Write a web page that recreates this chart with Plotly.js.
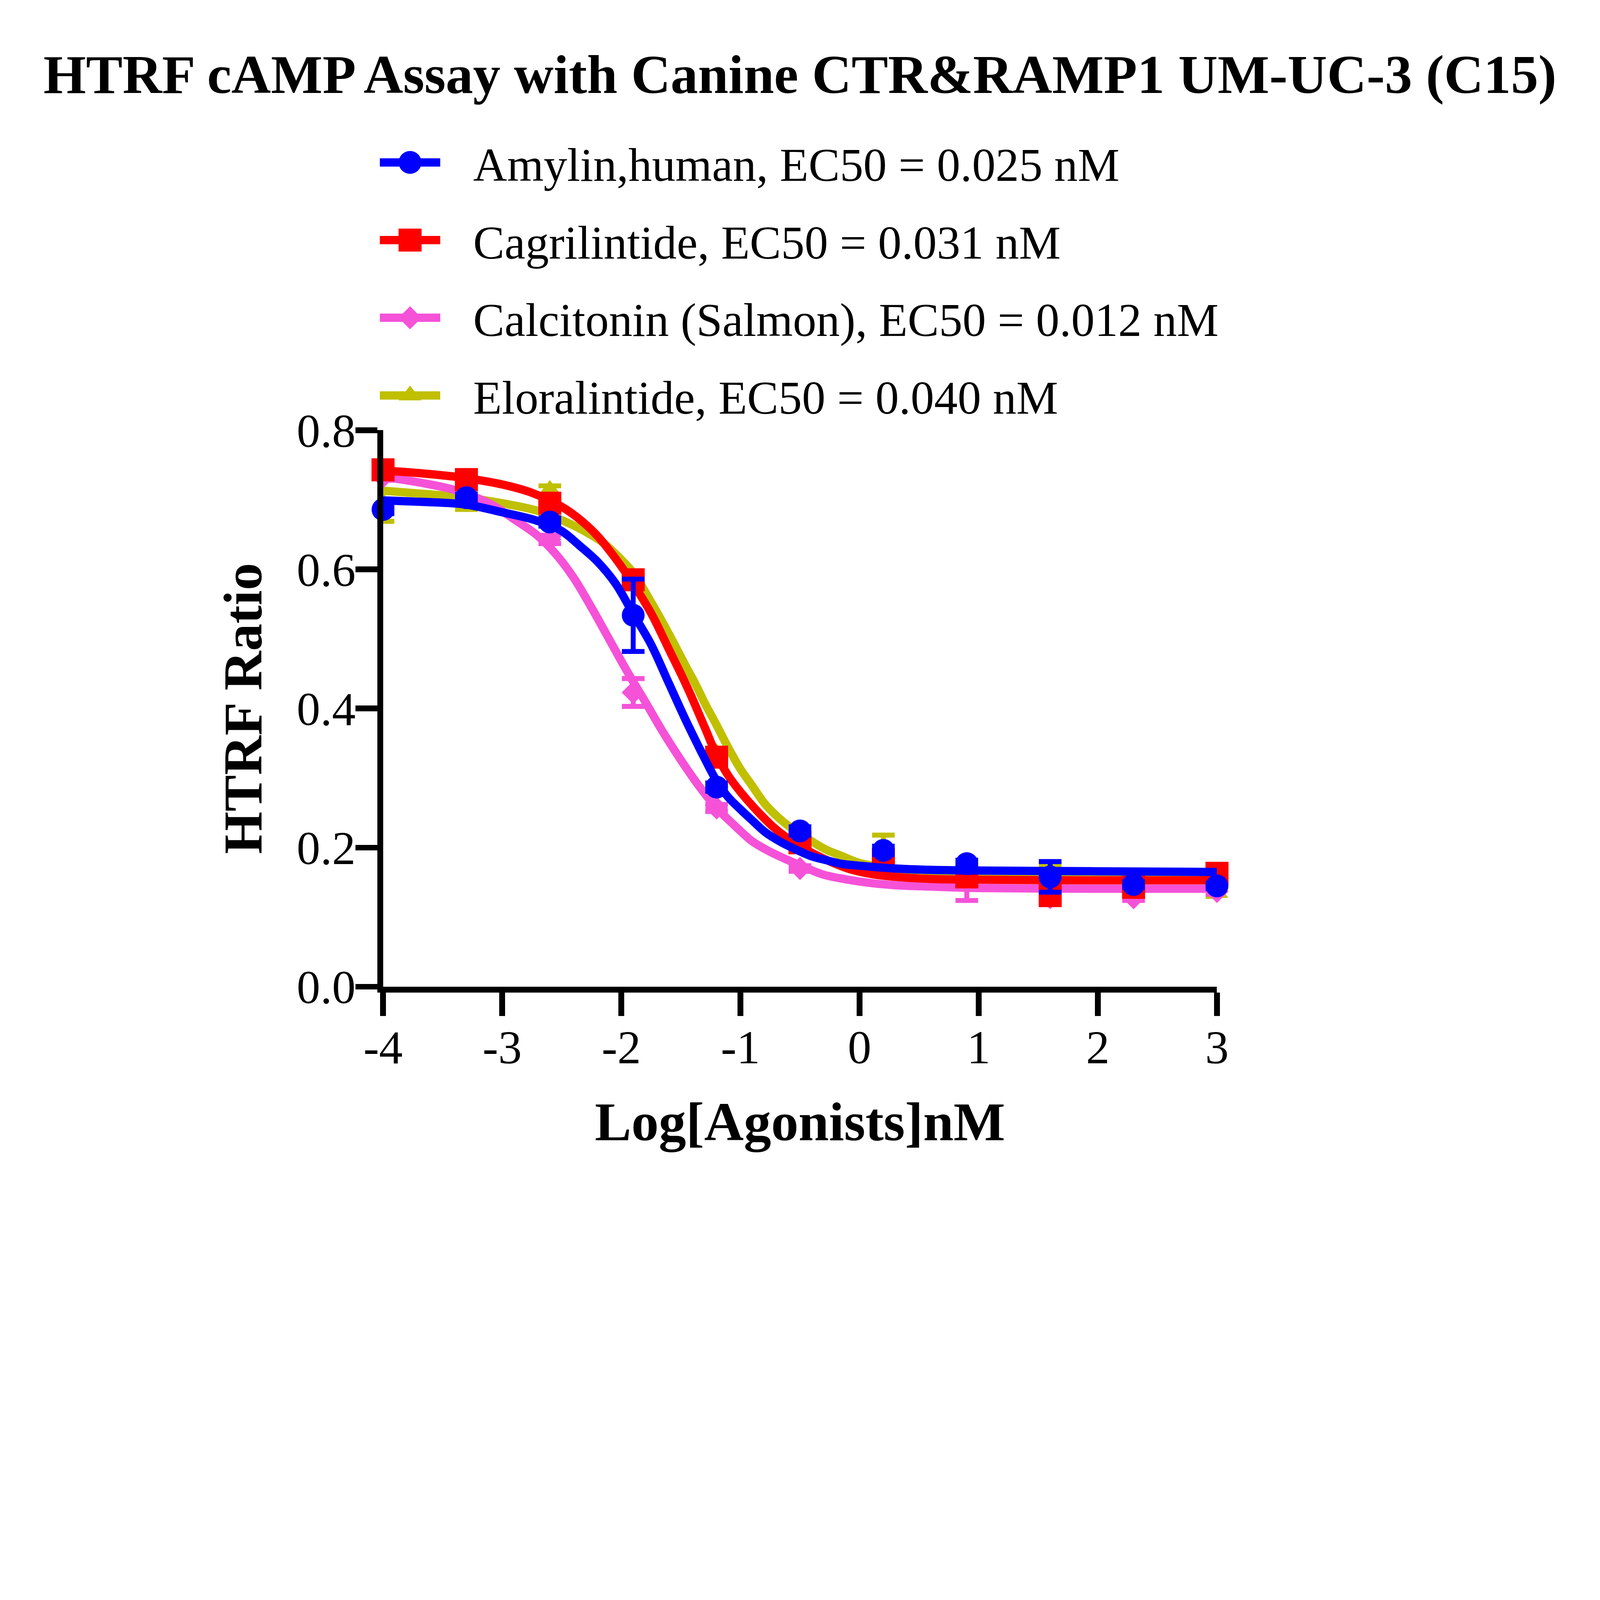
<!DOCTYPE html>
<html>
<head>
<meta charset="utf-8">
<script src="https://cdn.plot.ly/plotly-3.0.1.min.js"></script>
<style>
  html, body { margin: 0; padding: 0; background: #fff; overflow: hidden; }
  #chart { width: 848px; height: 631.25px; }
</style>
</head>
<body>
<div id="chart"></div>
<script>
// log[agonist] nM for every measured dose
const doses = [-4, -3.3, -2.6, -1.9, -1.2, -0.5, 0.2, 0.9, 1.6, 2.3, 3.0];

// mean HTRF ratio and SEM per agonist
const amylin      = [0.686, 0.703, 0.668, 0.534, 0.287, 0.224, 0.196, 0.177, 0.158, 0.147, 0.145];
const amylinSem   = [0.006, 0.005, 0.006, 0.052, 0.006, 0.006, 0.006, 0.005, 0.022, 0.004, 0.004];
const cagri       = [0.743, 0.729, 0.695, 0.585, 0.330, 0.207, 0.183, 0.158, 0.131, 0.143, 0.163];
const cagriSem    = [0.006, 0.005, 0.006, 0.008, 0.006, 0.006, 0.006, 0.006, 0.006, 0.005, 0.006];
const calcitonin  = [0.733, 0.720, 0.643, 0.423, 0.257, 0.170, 0.180, 0.149, 0.128, 0.128, 0.137];
const calcSem     = [0.005, 0.005, 0.006, 0.020, 0.005, 0.004, 0.005, 0.025, 0.005, 0.004, 0.004];
const elora       = [0.691, 0.692, 0.714, 0.586, 0.336, 0.215, 0.190, 0.165, 0.155, 0.145, 0.135];
const eloraSem    = [0.022, 0.006, 0.006, 0.006, 0.006, 0.006, 0.028, 0.006, 0.020, 0.005, 0.005];

// fitted curves
const amylinFitX = [-4.0, -3.68, -3.3, -3.0, -2.71, -2.5, -2.35, -2.2, -2.05, -1.9, -1.75, -1.6, -1.45, -1.3, -1.2, -1.1, -1.0, -0.9, -0.79, -0.66, -0.53, -0.41, -0.28, -0.16, 0.0, 0.3, 0.6, 1.0, 2.0, 3.0];
const amylinFitY = [0.699, 0.697, 0.693, 0.682, 0.670, 0.655, 0.634, 0.611, 0.580, 0.536, 0.492, 0.436, 0.380, 0.328, 0.296, 0.272, 0.255, 0.239, 0.222, 0.208, 0.197, 0.188, 0.182, 0.177, 0.174, 0.170, 0.168, 0.167, 0.166, 0.165];

const cagriFitX = [-4.0, -3.68, -3.3, -3.0, -2.75, -2.5, -2.35, -2.2, -2.05, -1.9, -1.75, -1.6, -1.45, -1.3, -1.2, -1.1, -0.98, -0.85, -0.72, -0.6, -0.47, -0.3, -0.1, 0.1, 0.3, 0.6, 1.0, 2.0, 3.0];
const cagriFitY = [0.742, 0.738, 0.731, 0.722, 0.710, 0.690, 0.672, 0.648, 0.616, 0.579, 0.537, 0.485, 0.432, 0.373, 0.333, 0.303, 0.276, 0.251, 0.229, 0.213, 0.199, 0.184, 0.170, 0.162, 0.158, 0.155, 0.154, 0.153, 0.153];

const calcFitX = [-4.0, -3.7, -3.4, -3.1, -2.9, -2.7, -2.55, -2.4, -2.25, -2.1, -1.95, -1.8, -1.65, -1.5, -1.35, -1.2, -1.05, -0.9, -0.75, -0.6, -0.45, -0.3, -0.1, 0.1, 0.3, 0.6, 1.0, 2.0, 3.0];
const calcFitY = [0.733, 0.725, 0.714, 0.694, 0.672, 0.648, 0.622, 0.588, 0.545, 0.499, 0.453, 0.410, 0.366, 0.326, 0.289, 0.257, 0.232, 0.209, 0.194, 0.182, 0.171, 0.161, 0.154, 0.149, 0.146, 0.144, 0.142, 0.141, 0.141];

const eloraFitX = [-4.0, -3.7, -3.3, -3.0, -2.7, -2.45, -2.3, -2.15, -2.0, -1.9, -1.75, -1.6, -1.45, -1.38, -1.3, -1.2, -1.1, -1.0, -0.91, -0.79, -0.66, -0.53, -0.41, -0.28, -0.15, 0.0, 0.2, 0.5, 1.0, 2.0, 3.0];
const eloraFitY = [0.713, 0.709, 0.703, 0.695, 0.684, 0.667, 0.654, 0.638, 0.614, 0.595, 0.553, 0.507, 0.458, 0.436, 0.408, 0.376, 0.343, 0.313, 0.291, 0.262, 0.240, 0.223, 0.210, 0.197, 0.188, 0.178, 0.172, 0.166, 0.162, 0.160, 0.159];

const seriesNames = [
  'Amylin,human, EC50 = 0.025 nM',
  'Cagrilintide, EC50 = 0.031 nM',
  'Calcitonin (Salmon), EC50 = 0.012 nM',
  'Eloralintide, EC50 = 0.040 nM'
];
const xTickVals = [-4, -3, -2, -1, 0, 1, 2, 3];
const xTickText = ['-4', '-3', '-2', '-1', '0', '1', '2', '3'];
const yTickVals = [0, 0.2, 0.4, 0.6, 0.8];

// the figure is laid out small and the svg is scaled up to the window,
// so the legend symbols keep the same size as the plotted ones
const W = 848, H = 631.25;
const FONT = 'Liberation Serif, Times New Roman, serif';
const LINE_W = 4.4;

const chartDiv = document.getElementById('chart');
const scale = Math.min(window.innerWidth / W, window.innerHeight / H);

function curve(x, y, color) {
  return { x: x, y: y, mode: 'lines', line: { color: color, width: LINE_W, shape: 'spline', smoothing: 1 },
           showlegend: false, hoverinfo: 'skip', cliponaxis: false };
}
function points(y, sem, color, symbol, size) {
  return { x: doses, y: y, mode: 'markers', marker: { color: color, symbol: symbol, size: size },
           error_y: { type: 'data', array: sem, visible: true, color: color, thickness: 2.6, width: 6 },
           showlegend: false, cliponaxis: false };
}
function legendEntry(name, color, symbol, size, group) {
  return { x: [null], y: [null], mode: 'lines+markers', name: '\u00a0\u00a0' + name,
           line: { color: color, width: LINE_W }, marker: { color: color, symbol: symbol, size: size },
           legendgroup: group, showlegend: true, hoverinfo: 'skip' };
}

const BLUE = '#0000ff', RED = '#ff0000', PINK = '#f552d8', OLIVE = '#c0bf00';

const data = [
  legendEntry(seriesNames[0], BLUE, 'circle', 12.1, 'a'),
  legendEntry(seriesNames[1], RED, 'square', 12.2, 'b'),
  legendEntry(seriesNames[2], PINK, 'diamond', 9.4, 'c'),
  legendEntry(seriesNames[3], OLIVE, 'triangle-up', 10.5, 'd'),
  // drawn bottom to top
  curve(eloraFitX, eloraFitY, OLIVE),
  points(elora, eloraSem, OLIVE, 'triangle-up', 10.5),
  curve(calcFitX, calcFitY, PINK),
  points(calcitonin, calcSem, PINK, 'diamond', 9.4),
  curve(cagriFitX, cagriFitY, RED),
  points(cagri, cagriSem, RED, 'square', 12.2),
  curve(amylinFitX, amylinFitY, BLUE),
  points(amylin, amylinSem, BLUE, 'circle', 12.1)
];

const axisBase = {
  ticks: 'outside', tickwidth: 3, tickcolor: '#000',
  showline: true, linewidth: 3, linecolor: '#000',
  showgrid: false, zeroline: false, fixedrange: true,
  ticklabelstandoff: -5,
  tickfont: { family: FONT, size: 25, color: '#000' }
};

const layout = {
  width: W, height: H,
  paper_bgcolor: '#fff', plot_bgcolor: '#fff',
  margin: { l: 202.6, r: 202.9, t: 228.1, b: 107.65 },
  title: {
    text: 'HTRF cAMP Assay with Canine CTR&amp;RAMP1 UM-UC-3 (C15)',
    font: { family: FONT, size: 29, color: '#000', weight: 'bold' },
    x: 0.5, xanchor: 'center', y: 0.938, yanchor: 'middle', yref: 'container'
  },
  xaxis: Object.assign({}, axisBase, {
    range: [-4, 3], tickvals: xTickVals, ticktext: xTickText, ticklen: 12.5,
    title: { text: 'Log[Agonists]nM', standoff: 17,
             font: { family: FONT, size: 29, color: '#000', weight: 'bold' } }
  }),
  yaxis: Object.assign({}, axisBase, {
    range: [0, 0.8], tickvals: yTickVals, tickformat: '.1f', ticklen: 11.5,
    title: { text: 'HTRF Ratio', standoff: 10,
             font: { family: FONT, size: 29, color: '#000', weight: 'bold' } }
  }),
  legend: {
    x: -0.0151, y: 1.558, xanchor: 'left', yanchor: 'top',
    font: { family: FONT, size: 24.9, color: '#000' },
    itemwidth: 32, tracegroupgap: 5.8, traceorder: 'grouped',
    bgcolor: 'rgba(0,0,0,0)', borderwidth: 0
  },
  showlegend: true
};

Plotly.newPlot(chartDiv, data, layout, { staticPlot: true, displayModeBar: false }).then(function () {
  // scale the vector output up to the window size
  const w = W * scale, h = H * scale;
  chartDiv.style.width = w + 'px';
  chartDiv.style.height = h + 'px';
  const holder = chartDiv.querySelector('.svg-container');
  holder.style.width = w + 'px';
  holder.style.height = h + 'px';
  chartDiv.querySelectorAll('svg.main-svg').forEach(function (svg) {
    svg.setAttribute('viewBox', '0 0 ' + W + ' ' + H);
    svg.setAttribute('width', w);
    svg.setAttribute('height', h);
    svg.style.width = w + 'px';
    svg.style.height = h + 'px';
  });
});
</script>
</body>
</html>
